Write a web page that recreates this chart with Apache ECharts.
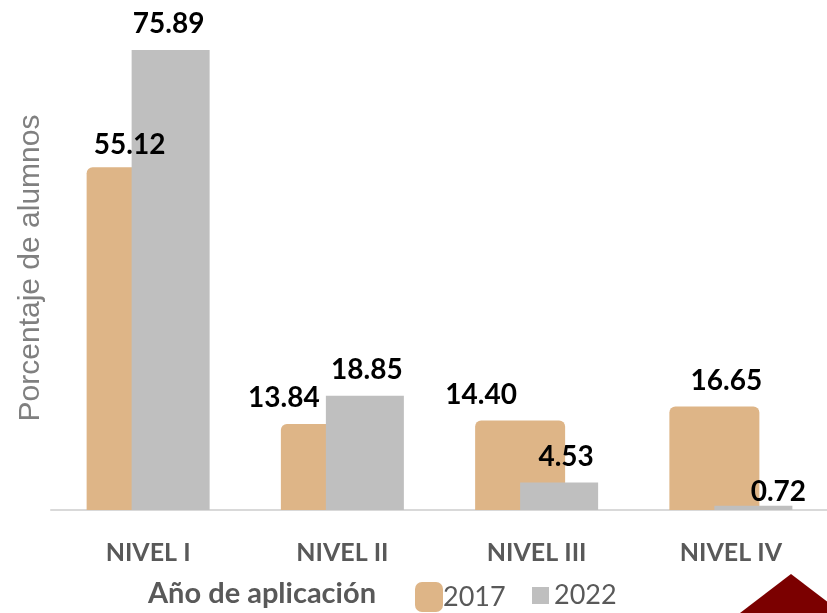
<!DOCTYPE html>
<html>
<head>
    <meta charset="utf-8">
    <title>Porcentaje de alumnos por nivel</title>
    <script src="https://cdn.jsdelivr.net/npm/echarts@6/dist/echarts.min.js"></script>
    <style>
        html, body { margin: 0; padding: 0; background: #fff; }
        #div1 { width: 827px; height: 613px; }
    </style>
</head>
<body>
    <div id="div1"></div>
    <script type="text/javascript">
        var niveles = ['NIVEL I', 'NIVEL II', 'NIVEL III', 'NIVEL IV'];
        var anios = ['2017', '2022'];
        var valores2017 = [55.12, 13.84, 14.40, 16.65];
        var valores2022 = [75.89, 18.85, 4.53, 0.72];

        // desplazamiento de etiquetas como en el original
        var offs2017 = [[-2, 4], [-42, 0], [-39, 0], [12, 0]];
        var offs2022 = [[-2, 0], [2, 0], [7, 0], [25, 12]];

        var myChart = echarts.init(document.getElementById('div1'));

        function build(vals, offs) {
            return vals.map(function(v, i) {
                return { value: v, label: { offset: offs[i] } };
            });
        }

        var labelStyle = {
            show: true,
            position: 'top',
            distance: 12,
            fontFamily: 'Lato',
            fontWeight: 'bold',
            fontSize: 28,
            color: '#000',
            formatter: function(p) { return p.value.toFixed(2); }
        };

        var option = {
            backgroundColor: '#fff',
            animation: false,
            grid: { left: 51, right: -1, top: 50, bottom: 103, outerBoundsMode: 'none', containLabel: false },
            legend: [{
                left: 410, top: 577,
                itemWidth: 28, itemHeight: 30, itemGap: 0,
                icon: 'roundRect',
                data: [anios[0]],
                textStyle: { fontFamily: 'Lato', fontSize: 27, color: '#595959', padding: [0, 0, 0, -5] }
            }, {
                left: 527, top: 577,
                itemWidth: 17, itemHeight: 17,
                icon: 'rect',
                data: [anios[1]],
                textStyle: { fontFamily: 'Lato', fontSize: 27, color: '#595959' }
            }],
            graphic: [{
                type: 'text', left: 148, top: 579,
                style: { text: 'Año de aplicación', font: 'bold 29px Lato', fill: '#595959' }
            }, {
                type: 'polygon',
                shape: { points: [[740, 613], [791, 574], [842, 613]] },
                style: { fill: '#7B0000' }
            }],
            xAxis: {
                type: 'category',
                data: niveles,
                axisLine: { lineStyle: { color: '#D9D9D9', width: 2 } },
                axisTick: { show: false },
                axisLabel: {
                    margin: 30,
                    fontFamily: 'Lato', fontWeight: 'bold', fontSize: 25, color: '#595959'
                }
            },
            yAxis: [{
                type: 'value', min: 0, max: 75.89,
                name: 'Porcentaje de alumnos',
                nameLocation: 'middle', nameGap: 5,
                nameTextStyle: { fontFamily: 'Liberation Sans', fontSize: 30, color: '#808080', padding: [0, 0, 0, 24] },
                axisLine: { show: false }, axisTick: { show: false },
                axisLabel: { show: false }, splitLine: { show: false }
            }, {
                type: 'value', min: 0, max: 74,
                show: false, splitLine: { show: false }
            }],
            series: [{
                name: anios[0],
                type: 'bar',
                yAxisIndex: 1,
                barWidth: 90,
                barGap: '-50%',
                itemStyle: { color: '#DEB587', borderRadius: [6, 6, 0, 0] },
                label: labelStyle,
                data: build(valores2017, offs2017)
            }, {
                name: anios[1],
                type: 'bar',
                yAxisIndex: 0,
                barWidth: 78,
                itemStyle: { color: '#BFBFBF' },
                label: labelStyle,
                data: build(valores2022, offs2022)
            }]
        };
        myChart.setOption(option);
    </script>
</body>
</html>
